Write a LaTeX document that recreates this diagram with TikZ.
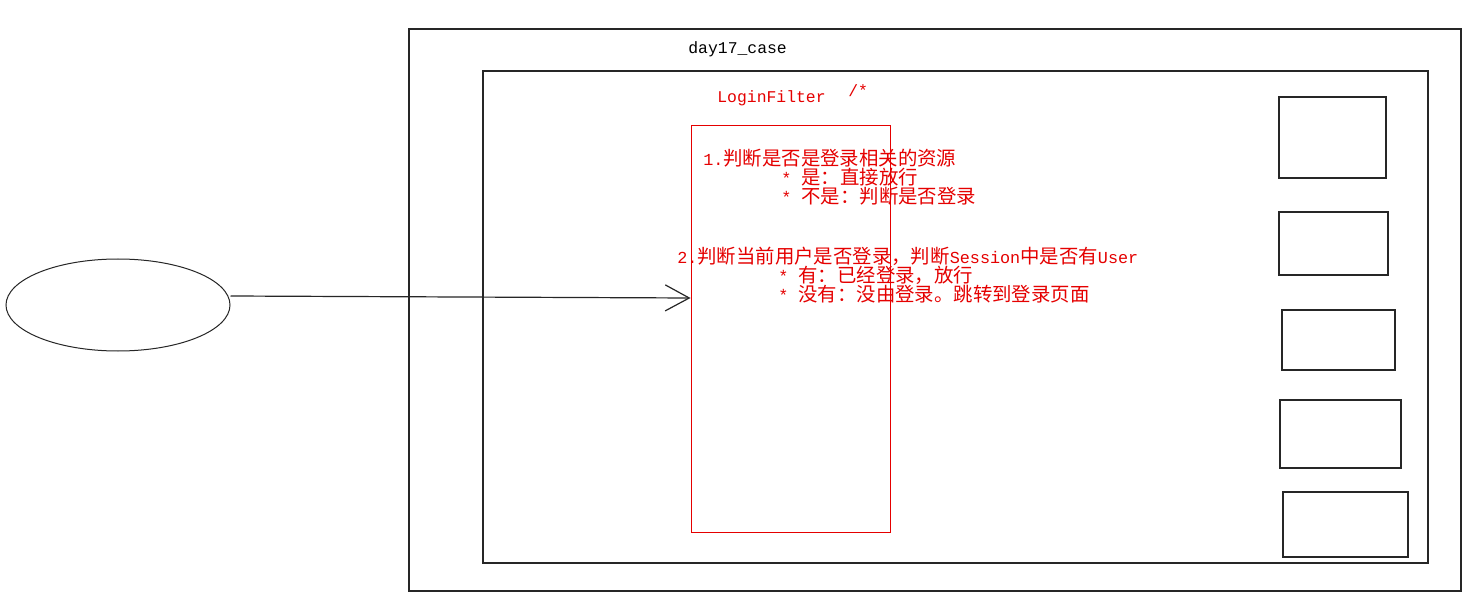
\documentclass[tikz,border=0pt]{standalone}
\usepackage{fontspec}
\setmainfont{Liberation Mono}
\newfontfamily\cjk{Noto Sans CJK SC}
\usetikzlibrary{shapes.geometric,arrows.meta}
\newcommand{\lat}[1]{{\rmfamily\fontsize{8.4}{9}\selectfont #1}}

\tikzset{
  frame/.style={draw=black!85,line width=0.65pt},
  redbox/.style={draw=red!90!black,line width=0.5pt},
  note/.style={text=red!90!black,anchor=west,inner sep=0pt,font=\cjk\fontsize{9.7}{10}\selectfont},
  label/.style={anchor=west,inner sep=0pt,font=\fontsize{8.2}{9}\selectfont},
  flow/.style={-{Straight Barb[length=12pt,width=13pt,line width=0.6pt]},line width=0.6pt,draw=black!85}
}

\begin{document}
\begin{tikzpicture}[x=0.5pt,y=-0.5pt]
  \useasboundingbox (0,0) rectangle (1480,615);
  \fill[white] (0,0) rectangle (1480,615);

  % project and web app frames
  \draw[frame] (409,29) rectangle (1461,591);
  \draw[frame] (483,71) rectangle (1428,563);
  \node[label] (project) at (688,49) {day17\_case};

  % resources on the right
  \foreach \a/\b/\c/\d in {1279/97/1386/178, 1279/212/1388/275, 1282/310/1395/370,
                           1280/400/1401/468, 1283/492/1408/557}
    \draw[frame] (\a,\b) rectangle (\c,\d);

  % browser and filter
  \node[draw=black!85,line width=0.5pt,ellipse,minimum width=112pt,minimum height=46pt] (browser) at (118,305) {};
  \node[redbox,minimum width=99.5pt,minimum height=203pt] (filter) at (790.5,329) {};
  \node[label,text=red!90!black] (name) at (717,98) {LoginFilter};
  \node[label,text=red!90!black] (pattern) at (848,91) {/*};

  \draw[flow] (browser.east |- 0,296) -- (filter.west |- 0,298);

  % steps
  \node[note] (s1)  at (703,158) {\lat{1.}判断是否是登录相关的资源};
  \node[note] (s1a) at (781,177) {\lat{* }是：直接放行};
  \node[note] (s1b) at (781,196) {\lat{* }不是：判断是否登录};
  \node[note] (s2)  at (677,256) {\lat{2.}判断当前用户是否登录，判断\lat{Session}中是否有\lat{User}};
  \node[note] (s2a) at (778,275) {\lat{* }有：已经登录，放行};
  \node[note] (s2b) at (778,294) {\lat{* }没有：没由登录。跳转到登录页面};

\end{tikzpicture}
\end{document}
